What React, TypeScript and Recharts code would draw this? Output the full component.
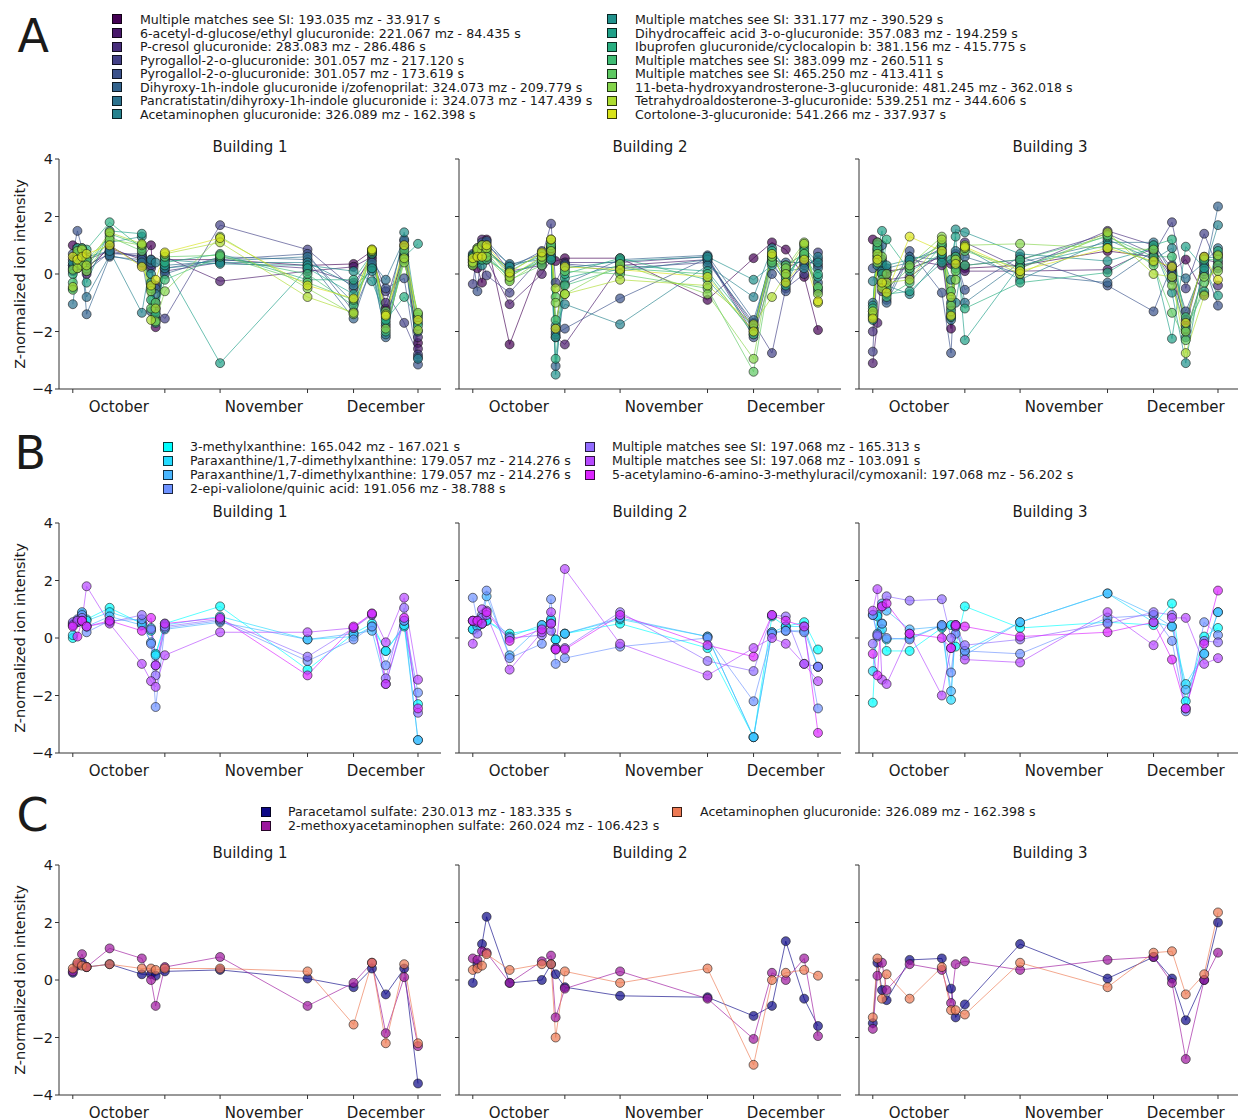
import React from 'react';
import { LineChart, Line, XAxis, YAxis } from 'recharts';

const FONT = '"DejaVu Sans", Verdana, sans-serif';

// sampling days (days since first sample)
const DAYS = [0, 1, 2, 3, 8, 15, 17, 18, 20, 32, 51, 61, 65, 68, 72, 75];
const TICK_DAYS = [0, 20, 32, 51, 61, 75];
const MONTH_DAYS = [10, 41.5, 68];
const MONTHS = ['October', 'November', 'December'];
const BUILDINGS = ['Building 1', 'Building 2', 'Building 3'];

const GLUC_NAMES = [
  'Multiple matches see SI: 193.035 mz - 33.917 s',
  '6-acetyl-d-glucose/ethyl glucuronide: 221.067 mz - 84.435 s',
  'P-cresol glucuronide: 283.083 mz - 286.486 s',
  'Pyrogallol-2-o-glucuronide: 301.057 mz - 217.120 s',
  'Pyrogallol-2-o-glucuronide: 301.057 mz - 173.619 s',
  'Dihyroxy-1h-indole glucuronide i/zofenoprilat: 324.073 mz - 209.779 s',
  'Pancratistatin/dihyroxy-1h-indole glucuronide i: 324.073 mz - 147.439 s',
  'Acetaminophen glucuronide: 326.089 mz - 162.398 s',
  'Multiple matches see SI: 331.177 mz - 390.529 s',
  'Dihydrocaffeic acid 3-o-glucuronide: 357.083 mz - 194.259 s',
  'Ibuprofen glucuronide/cyclocalopin b: 381.156 mz - 415.775 s',
  'Multiple matches see SI: 383.099 mz - 260.511 s',
  'Multiple matches see SI: 465.250 mz - 413.411 s',
  '11-beta-hydroxyandrosterone-3-glucuronide: 481.245 mz - 362.018 s',
  'Tetrahydroaldosterone-3-glucuronide: 539.251 mz - 344.606 s',
  'Cortolone-3-glucuronide: 541.266 mz - 337.937 s',
];
const GLUC_COLORS = [
  '#440154', '#48186a', '#472d7b', '#424086', '#3b528b', '#33638d', '#2c728e', '#26828e',
  '#21918c', '#1fa088', '#28ae80', '#3fbc73', '#5ec962', '#84d44b', '#addc30', '#d8e219',
];

const CAFF_NAMES = [
  '3-methylxanthine: 165.042 mz - 167.021 s',
  'Paraxanthine/1,7-dimethylxanthine: 179.057 mz - 214.276 s',
  'Paraxanthine/1,7-dimethylxanthine: 179.057 mz - 214.276 s',
  '2-epi-valiolone/quinic acid: 191.056 mz - 38.788 s',
  'Multiple matches see SI: 197.068 mz - 165.313 s',
  'Multiple matches see SI: 197.068 mz - 103.091 s',
  '5-acetylamino-6-amino-3-methyluracil/cymoxanil: 197.068 mz - 56.202 s',
];
const CAFF_COLORS = ['#00ffff', '#24dbff', '#49b6ff', '#6d92ff', '#926dff', '#b649ff', '#db24ff'];

const PARA_NAMES = [
  'Paracetamol sulfate: 230.013 mz - 183.335 s',
  '2-methoxyacetaminophen sulfate: 260.024 mz - 106.423 s',
  'Acetaminophen glucuronide: 326.089 mz - 162.398 s',
];
const PARA_COLORS = ['#0d0887', '#9c179e', '#ed7953'];

// one row per sampling day, one value per compound
const GLUC_B1 = [
  [1.0, 0.5, 0.3, 0.1, 0.7, 0.3, -1.05, 0.2, 0.4, -0.5, 0.0, -0.3, -0.55, 0.15, -0.45, 0.6],
  [0.6, 0.8, 0.5, 0.3, 1.5, 0.9, 0.2, 0.5, 0.6, 0.3, 0.9, 0.7, 0.4, 0.8, 0.2, 0.5],
  [0.4, 0.6, 0.7, 0.8, 0.9, 0.5, 0.3, 0.6, 0.4, 0.8, 0.5, 0.9, 0.7, 0.3, 0.85, 0.6],
  [0.2, 0.0, 0.5, 0.3, 0.1, -1.4, -0.8, 0.6, 0.4, -0.3, 0.85, 0.2, 0.5, 0.1, 0.3, 0.7],
  [0.9, 1.0, 0.8, 0.7, 0.75, 0.6, 0.65, 0.8, 1.1, 1.5, 1.8, 1.4, 1.3, 1.2, 1.45, 1.0],
  [0.5, 0.3, 0.6, 0.7, 0.6, 0.5, 0.4, -1.35, 1.3, 1.4, 0.9, 1.0, 0.8, 1.0, 1.05, 0.25],
  [1.0, 0.5, 0.2, 0.3, -0.4, -1.3, 0.4, 0.5, 0.0, -0.3, -0.9, -0.5, -1.2, -0.6, -1.6, -0.4],
  [-1.85, -1.5, -0.4, -1.2, -1.0, -0.5, -0.7, 0.4, -1.6, -1.3, -1.7, -1.4, -1.0, -1.65, -1.2, -0.2],
  [0.5, 0.6, 0.1, -1.55, 0.2, 0.0, 0.3, 0.2, 0.5, 0.3, 0.4, -0.2, 0.6, -0.6, 0.7, 0.75],
  [0.5, -0.25, 0.4, 1.7, 0.5, 0.6, 0.45, 0.4, 0.35, -3.1, 0.7, 0.6, 0.65, 1.3, 1.1, 1.25],
  [0.3, 0.1, 0.2, 0.85, 0.7, 0.5, 0.6, 0.4, 0.3, 0.2, -0.2, 0.0, -0.3, -0.5, -0.8, -0.4],
  [0.35, 0.25, -0.3, -0.5, -1.3, -1.55, -1.0, -0.4, 0.1, -0.7, -0.2, -1.1, -0.9, -1.4, -1.35, -0.85],
  [0.8, 0.6, 0.5, 0.7, 0.2, 0.3, 0.4, 0.1, -0.25, 0.2, 0.7, 0.75, 0.8, 0.85, 0.8, 0.85],
  [-1.2, -1.8, -1.0, -0.6, -0.5, -2.2, -0.2, -2.1, -1.5, -1.7, -1.6, -2.0, -1.3, -1.9, -1.4, -1.45],
  [0.6, 1.0, 1.15, -1.7, -0.15, 0.7, 1.2, 0.9, 1.45, 0.6, -0.8, 0.5, 0.8, 0.4, 0.55, 1.0],
  [-2.4, -2.6, -2.2, -2.8, -3.15, -2.9, -2.0, -2.95, -1.7, 1.05, -1.5, -1.8, -1.4, -1.35, -1.95, -1.6],
];
const GLUC_B2 = [
  [0.3, 0.5, 0.4, -0.35, 0.6, 0.7, 0.45, 0.55, 0.65, 0.5, 0.35, 0.6, 0.45, 0.3, 0.4, 0.55],
  [0.2, 0.7, 0.5, 0.8, -0.6, 0.9, 0.6, 0.4, 0.7, 0.5, 0.6, 0.8, 0.75, 0.9, 0.85, 0.6],
  [-0.3, 1.2, 1.0, 0.5, 1.1, 0.9, 0.7, 1.0, 0.3, 0.8, 0.6, 0.5, 0.7, 0.8, 1.0, 0.6],
  [1.2, 0.5, 1.1, -0.05, 0.8, 1.15, 1.0, 0.9, 0.7, 0.6, 0.85, 0.5, 0.75, 0.6, 0.9, 1.0],
  [-2.45, -1.05, 0.1, -0.65, 0.2, 0.3, 0.35, 0.0, 0.25, -0.1, 0.1, 0.0, -0.2, -0.25, -0.1, 0.05],
  [0.5, 0.0, 0.3, 0.6, 0.8, 0.7, 0.5, 0.4, 0.6, 0.55, 0.7, 0.45, 0.3, 0.5, 0.6, 0.75],
  [0.9, 0.5, 0.6, 1.75, 0.8, 0.7, 0.9, 1.0, 0.6, 0.5, 0.9, 1.1, 1.0, 1.2, 0.8, 1.2],
  [0.45, -2.2, -1.9, -0.3, -2.1, -3.2, -2.0, -1.8, -3.5, -2.2, -2.95, -1.6, -0.8, -1.0, -0.5, -1.9],
  [0.55, -2.45, 0.4, 0.35, -1.9, -0.35, 0.3, -1.05, 0.2, -0.15, 0.0, -0.4, 0.1, -0.7, -0.7, 0.25],
  [0.55, 0.3, 0.4, 0.2, -0.85, 0.5, 0.1, -1.75, 0.45, 0.3, 0.55, 0.2, 0.0, 0.35, -0.2, 0.15],
  [-0.9, 0.5, 0.6, 0.4, 0.55, 0.65, 0.5, 0.3, 0.6, 0.1, -0.2, 0.0, -0.5, -0.7, -0.4, -0.1],
  [0.55, -1.9, -2.1, -1.7, -2.2, -1.6, -1.8, -0.8, -0.2, -1.9, -2.0, -2.1, -3.4, -2.95, -1.75, -2.0],
  [1.1, 0.6, 0.4, -2.75, 0.0, 0.5, 0.7, 0.9, 0.3, 0.6, 0.8, 0.5, 0.4, 0.6, -0.8, 0.7],
  [0.85, 0.2, -0.3, -0.5, -0.6, 0.4, 0.3, 0.1, -0.2, 0.0, -0.4, -0.1, 0.3, 0.2, 0.0, -0.3],
  [-0.1, 0.5, 0.3, 0.0, 0.6, 0.4, 0.7, 0.2, 0.9, 0.6, 1.0, 0.8, 0.7, 1.1, 1.05, 0.5],
  [-1.95, 0.3, 0.5, 0.75, -0.6, -0.3, 0.2, 0.6, 0.4, -0.1, 0.0, -0.5, -0.45, -0.7, -1.0, -0.95],
];
const GLUC_B3 = [
  [1.2, -3.1, -2.0, -2.7, 0.2, -1.3, -1.0, -0.25, -1.1, -1.6, -1.5, -1.2, -1.4, -1.45, -1.3, -1.55],
  [1.1, -1.7, 0.8, 0.5, 0.9, 0.6, 0.7, 0.3, 1.0, 0.8, 0.6, 0.9, 1.1, 0.4, 0.7, 0.5],
  [0.0, 0.2, -0.3, -0.6, 0.5, 1.0, 0.3, 0.1, 0.4, 1.5, 0.0, -0.4, -0.2, 0.6, -0.5, -0.3],
  [0.1, -0.6, -0.2, 0.0, -0.9, -1.0, 0.2, -0.4, 0.3, -0.7, 1.2, -0.8, -0.5, 0.0, -0.3, -0.65],
  [0.2, 0.5, -0.1, 0.3, 0.8, 0.6, 0.4, -0.7, 0.5, -0.6, 0.1, -0.3, 0.2, 0.3, -0.2, 1.3],
  [0.6, 0.3, 0.7, 0.9, -0.65, 0.5, 1.0, 0.6, 0.8, 0.4, 0.7, 1.0, 1.1, 1.3, 1.2, 0.8],
  [-1.9, 0.35, -1.5, -1.4, -2.75, -1.2, -1.6, -0.2, -1.0, 0.5, -1.5, -1.3, -0.6, -1.1, -0.8, -1.45],
  [0.3, 0.5, 0.7, 0.4, 0.6, 0.3, 0.8, -1.0, 1.55, 1.3, 0.2, 0.6, 0.1, -0.2, 0.5, 0.35],
  [0.2, 0.1, 1.1, 0.3, -0.55, 0.6, -1.0, 0.9, 1.45, -2.3, -1.2, 0.3, 0.8, 1.0, 0.9, 0.95],
  [0.3, 0.1, 0.2, 0.5, 0.6, 0.0, 0.4, -0.2, 0.7, 0.3, -0.3, 0.5, 0.2, 1.05, 0.0, 0.1],
  [0.8, 0.15, 1.5, 1.4, -0.4, -0.3, 1.1, 1.2, 0.45, 1.0, 0.05, 1.3, 1.35, 0.9, 1.45, 0.9],
  [0.6, 0.9, 1.0, 0.7, -1.3, 0.8, 1.1, 0.5, 0.9, 0.4, 1.0, 0.6, 0.3, 0.85, 0.0, 0.45],
  [0.1, -0.1, 0.2, 1.8, 0.3, -0.2, 0.0, 0.9, -0.65, -2.25, 1.2, 0.6, -1.35, -0.4, -0.1, 0.25],
  [0.5, -1.6, -1.8, -0.5, -1.3, -2.0, -0.15, -2.2, -3.1, 0.95, -1.9, -1.5, -2.3, -2.0, -2.75, -1.7],
  [-0.7, 0.5, 0.6, 1.4, 0.3, 0.0, 0.4, 0.1, 0.55, 0.2, -0.6, 0.5, -0.3, -0.1, -0.75, 0.6],
  [0.7, 0.4, -0.4, 0.2, -1.1, 2.35, 0.9, 1.7, 0.6, -0.75, 0.8, 0.5, 0.3, 0.1, 0.65, -0.2],
];

const CAFF_B1 = [
  [0.0, 0.1, 0.45, 0.5, 0.55, 0.45, 0.4],
  [0.6, 0.55, 0.6, 0.65, 0.55, 0.6, 0.05],
  [0.7, 0.85, 0.9, 0.8, 0.7, 0.6, 0.6],
  [0.65, 0.6, 0.4, 0.2, 0.4, 1.8, 0.4],
  [1.05, 0.9, 0.75, 0.6, 0.55, 0.5, 0.6],
  [0.5, 0.55, 0.45, 0.65, 0.8, -0.9, 0.25],
  [0.25, 0.35, -0.15, -0.2, 0.3, -1.5, 0.7],
  [-0.55, -0.6, -0.95, -2.4, -1.3, -1.7, -0.95],
  [0.5, 0.45, 0.3, 0.35, 0.4, -0.6, 0.5],
  [1.1, 0.75, 0.55, 0.6, 0.65, 0.2, 0.7],
  [-1.1, -0.05, -0.05, -0.8, -0.65, 0.2, -1.3],
  [0.15, 0.05, 0.15, -0.05, 0.35, 0.35, 0.4],
  [0.5, 0.4, 0.25, 0.4, 0.8, 0.85, 0.85],
  [-0.45, -0.45, -1.6, -0.95, -1.4, -0.15, -1.6],
  [0.4, 0.45, 0.6, 0.6, 1.05, 1.4, 0.7],
  [-2.3, -3.55, -3.55, -1.9, -2.6, -1.45, -2.45],
];
const CAFF_B2 = [
  [0.3, 0.3, 0.6, 1.4, 0.6, -0.2, 0.6],
  [0.4, 0.5, 0.4, 0.6, 0.15, 0.55, 0.6],
  [0.5, 0.6, 0.5, 0.8, 0.7, 1.0, 0.5],
  [0.6, 0.6, 1.45, 1.65, 0.95, 0.8, 0.9],
  [0.15, 0.05, -0.6, -0.7, 0.0, -1.1, -0.1],
  [0.35, 0.45, 0.45, -0.2, 0.1, 0.2, 0.3],
  [0.6, 0.65, 0.5, 1.35, 0.25, 0.9, 0.5],
  [-0.05, -0.05, -0.35, -0.9, -0.35, -0.4, -0.4],
  [0.15, 0.15, 0.15, -0.7, -0.35, 2.4, -0.4],
  [0.5, 0.65, 0.7, -0.3, 0.9, -0.2, 0.8],
  [-0.35, 0.05, 0.05, 0.0, -0.8, -1.3, -0.25],
  [-3.45, -3.45, -3.45, -2.2, -1.15, -0.35, -0.65],
  [0.75, 0.2, 0.2, 0.15, 0.8, 0.0, 0.8],
  [0.4, 0.4, 0.25, 0.25, 0.75, -0.2, 0.6],
  [0.55, 0.4, 0.25, 0.2, -0.9, -0.9, 0.4],
  [-0.4, -1.0, -1.0, -2.45, -1.0, -1.5, -3.3],
];
const CAFF_B3 = [
  [-2.25, -1.15, 0.8, 0.8, -0.2, 0.95, -0.55],
  [0.8, 0.75, 0.15, 0.05, 0.1, 1.7, -1.3],
  [0.5, 0.3, 1.2, 0.5, 1.1, -1.45, 1.1],
  [-0.45, -0.05, 0.95, 0.0, 1.45, -1.6, 1.2],
  [-0.45, 0.0, 0.3, -0.05, 1.3, 0.15, 0.15],
  [0.35, 0.45, 0.4, 0.45, 1.35, -2.0, 0.0],
  [0.45, -2.15, -1.85, -1.2, 0.0, -0.35, -0.35],
  [-0.3, 0.45, 0.4, 0.15, 0.45, 0.4, 0.45],
  [1.1, -0.45, -0.6, -0.45, -0.25, -0.75, 0.4],
  [0.35, 0.55, 0.55, -0.55, -0.05, -0.85, 0.05],
  [0.55, 1.55, 1.55, 0.7, 0.5, 0.9, 0.2],
  [0.45, 0.55, 0.8, 0.8, 0.9, -0.25, 0.55],
  [1.2, 0.4, 0.4, -0.1, 0.8, 0.7, -0.75],
  [-2.2, -1.6, -1.8, -2.55, -2.45, 0.7, -2.45],
  [0.05, -0.55, -0.55, 0.55, -0.1, -0.9, -0.2],
  [0.35, 0.9, 0.9, 0.1, -0.15, -0.7, 1.65],
];

const PARA_B1 = [
  [0.25, 0.3, 0.4], [0.5, 0.55, 0.6], [0.6, 0.9, 0.5], [0.45, 0.45, 0.45],
  [0.55, 1.1, 0.55], [0.2, 0.75, 0.4], [0.2, 0.0, 0.4], [0.15, -0.9, 0.35],
  [0.3, 0.45, 0.4], [0.35, 0.8, 0.4], [0.05, -0.9, 0.3], [-0.25, -0.1, -1.55],
  [0.4, 0.6, 0.6], [-0.5, -1.85, -2.2], [0.4, 0.1, 0.55], [-3.6, -2.3, -2.2],
];
const PARA_B2 = [
  [-0.1, 0.75, 0.35], [0.55, 0.7, 0.4], [1.25, 1.0, 0.5], [2.2, 0.95, 0.9],
  [-0.1, -0.1, 0.35], [0.0, 0.65, 0.55], [0.55, 0.85, 0.55], [0.2, -1.3, -2.0],
  [-0.25, -0.3, 0.3], [-0.55, 0.3, -0.1], [-0.6, -0.65, 0.4], [-1.25, -2.05, -2.95],
  [-0.9, 0.25, 0.0], [1.35, 0.0, 0.25], [-0.65, 0.75, 0.35], [-1.6, -1.95, 0.15],
];
const PARA_B3 = [
  [-1.5, -1.7, -1.3], [0.6, 0.15, 0.75], [-0.35, 0.6, -0.65], [-0.7, -0.35, 0.2],
  [0.7, 0.55, -0.65], [0.75, 0.35, 0.45], [-0.3, -0.8, -1.05], [-1.3, 0.55, -1.05],
  [-0.85, 0.65, -1.2], [1.25, 0.35, 0.6], [0.05, 0.7, -0.25], [0.8, 0.8, 0.95],
  [0.05, -0.1, 1.0], [-1.4, -2.75, -0.5], [0.0, 0.0, 0.2], [2.0, 0.95, 2.35],
];

const PLOT_W = 382;
const PLOT_H = 230;
const AXIS_W = 59;
const X_TICK = 4;
const X_MARGIN = 8;
const ALL_X_TICKS = [...TICK_DAYS, ...MONTH_DAYS].sort((a, b) => a - b);

const toRows = (vals: number[][]) =>
  DAYS.map((day, i) => {
    const row: { [k: string]: number } = { day };
    vals[i].forEach((v, j) => {
      row[`s${j}`] = v;
    });
    return row;
  });

const fmtY = (v: number) => (v < 0 ? `\u2212${Math.abs(v)}` : `${v}`);

// tick marks at sample-period bounds, month names centred between them
const MonthTick = (props: any) => {
  const { x, y, payload } = props;
  const v = payload.value;
  if (TICK_DAYS.includes(v)) {
    return <line x1={x} x2={x} y1={y - X_MARGIN - X_TICK} y2={y - X_MARGIN} stroke="#333" strokeWidth={1} />;
  }
  const idx = MONTH_DAYS.indexOf(v);
  return (
    <text x={x} y={y} dy="0.71em" textAnchor="middle" fontSize={15} fill="#1a1a1a" fontFamily={FONT}>
      {MONTHS[idx]}
    </text>
  );
};

function Panel({ vals, colors, left, top, showY }: any) {
  const data = toRows(vals);
  return (
    <div style={{ position: 'absolute', left, top: top - 10 }}>
      <LineChart
        width={AXIS_W + PLOT_W + 8}
        height={10 + PLOT_H + 30}
        data={data}
        margin={{ top: 10, right: 8, bottom: 0, left: 0 }}
      >
        <XAxis
          dataKey="day"
          type="number"
          domain={[-3, 80]}
          allowDataOverflow
          ticks={ALL_X_TICKS}
          interval={0}
          tickSize={X_TICK}
          tickMargin={X_MARGIN}
          tickLine={{ stroke: 'none' }}
          tick={<MonthTick />}
          height={30}
          stroke="#333"
        />
        <YAxis
          type="number"
          domain={[-4, 4]}
          allowDataOverflow
          ticks={[-4, -2, 0, 2, 4]}
          interval={0}
          width={AXIS_W}
          tickSize={4}
          tickMargin={2}
          stroke="#333"
          tickFormatter={showY ? fmtY : () => ''}
          tick={{ fontSize: 14.5, fill: '#1a1a1a', fontFamily: FONT }}
        />
        {colors.map((c: string, i: number) => (
          <Line
            key={i}
            dataKey={`s${i}`}
            stroke={c}
            strokeWidth={1}
            strokeOpacity={0.65}
            dot={{ r: 4.5, fill: c, fillOpacity: 0.7, stroke: '#111', strokeOpacity: 0.7, strokeWidth: 0.8 }}
            activeDot={false}
            isAnimationActive={false}
          />
        ))}
      </LineChart>
    </div>
  );
}

function Legend({ names, colors, columns, top, spacing }: any) {
  return (
    <>
      {columns.map((col: any, ci: number) => (
        <div key={ci} style={{ position: 'absolute', left: col.square, top }}>
          {names.slice(col.from, col.to).map((n: string, k: number) => (
            <div key={k} style={{ height: spacing, display: 'flex', alignItems: 'center', whiteSpace: 'nowrap' }}>
              <div
                style={{
                  width: 10,
                  height: 10,
                  boxSizing: 'border-box',
                  background: colors[col.from + k],
                  border: '1px solid rgba(0,0,0,0.75)',
                  flex: 'none',
                }}
              />
              <span style={{ marginLeft: col.text - col.square - 10, fontSize: 12.6, color: '#1a1a1a' }}>{n}</span>
            </div>
          ))}
        </div>
      ))}
    </>
  );
}

const ROWS = [
  { letter: 'A', letterLeft: 17.5, letterTop: 13, plotTop: 159, titleTop: 140, sets: [GLUC_B1, GLUC_B2, GLUC_B3], colors: GLUC_COLORS },
  { letter: 'B', letterLeft: 14.5, letterTop: 430, plotTop: 523, titleTop: 505, sets: [CAFF_B1, CAFF_B2, CAFF_B3], colors: CAFF_COLORS },
  { letter: 'C', letterLeft: 16.5, letterTop: 792, plotTop: 865, titleTop: 846, sets: [PARA_B1, PARA_B2, PARA_B3], colors: PARA_COLORS },
];

export default function App() {
  return (
    <div
      style={{
        position: 'absolute',
        left: 0,
        top: 0,
        width: 1238,
        height: 1120,
        background: '#fff',
        overflow: 'hidden',
        fontFamily: FONT,
        color: '#1a1a1a',
      }}
    >
      <Legend
        names={GLUC_NAMES}
        colors={GLUC_COLORS}
        top={12.7}
        spacing={13.57}
        columns={[
          { from: 0, to: 8, square: 112, text: 140 },
          { from: 8, to: 16, square: 607, text: 635 },
        ]}
      />
      <Legend
        names={CAFF_NAMES}
        colors={CAFF_COLORS}
        top={440}
        spacing={13.9}
        columns={[
          { from: 0, to: 4, square: 163, text: 190 },
          { from: 4, to: 7, square: 585, text: 612 },
        ]}
      />
      <Legend
        names={PARA_NAMES}
        colors={PARA_COLORS}
        top={805}
        spacing={13.8}
        columns={[
          { from: 0, to: 2, square: 261, text: 288 },
          { from: 2, to: 3, square: 672, text: 700 },
        ]}
      />
      {ROWS.map((r) => (
        <React.Fragment key={r.letter}>
          <div
            style={{
              position: 'absolute',
              left: r.letterLeft,
              top: r.letterTop,
              fontSize: 46,
              lineHeight: '46px',
            }}
          >
            {r.letter}
          </div>
          <div
            style={{
              position: 'absolute',
              left: 20 - 130,
              top: r.plotTop + PLOT_H / 2 - 8,
              width: 260,
              height: 16,
              lineHeight: '16px',
              fontSize: 14.5,
              textAlign: 'center',
              transform: 'rotate(-90deg)',
              whiteSpace: 'nowrap',
            }}
          >
            Z-normalized ion intensity
          </div>
          {BUILDINGS.map((b, bi) => (
            <React.Fragment key={b}>
              <div
                style={{
                  position: 'absolute',
                  left: AXIS_W + 400 * bi,
                  top: r.titleTop,
                  width: PLOT_W,
                  textAlign: 'center',
                  fontSize: 15,
                  lineHeight: '15px',
                }}
              >
                {b}
              </div>
              <Panel vals={r.sets[bi]} colors={r.colors} left={400 * bi} top={r.plotTop} showY={bi === 0} />
            </React.Fragment>
          ))}
        </React.Fragment>
      ))}
    </div>
  );
}
